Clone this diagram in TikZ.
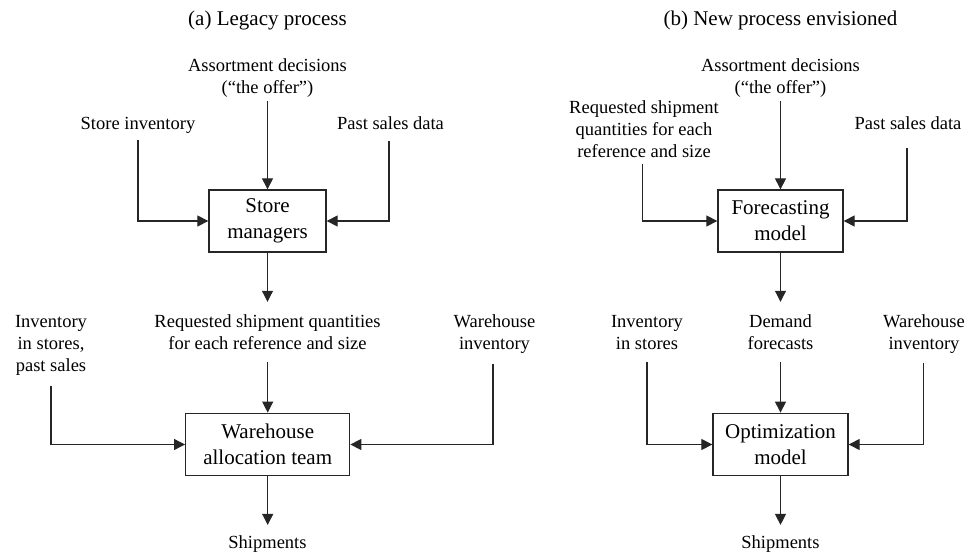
\documentclass[tikz,border=0pt]{standalone}
\usepackage{fontspec}
\setmainfont{Liberation Serif}
\usetikzlibrary{arrows.meta}
\begin{document}
\begin{tikzpicture}[x=1pt,y=-1pt,
  lab/.style={align=center,inner sep=0pt,font=\fontsize{18.5}{22}\selectfont},
  ttl/.style={inner sep=0pt,font=\fontsize{21}{25}\selectfont},
  box/.style={draw=black!85,line width=1.3pt,align=center,inner sep=0pt,font=\fontsize{21}{26}\selectfont},
  con/.style={draw=black!85,line width=1.1pt},
  arr/.style={con,-{Triangle[length=11pt,width=11pt]}}]
\useasboundingbox (0,0) rectangle (966,556);
% ---------- (a) ----------
\node[ttl] (ttlA) at (267.5,20.5) {(a) Legacy process};
\node[lab] (assortA) at (267.5,78.5) {Assortment decisions\\(``the offer'')};
\node[lab] (storeinv) at (138,125.5) {Store inventory};
\node[lab] (pastA) at (390.5,123.5) {Past sales data};
\node[box,minimum width=117pt,minimum height=62pt] (sm) at (267.5,221) {Store\\managers};
\node[lab] (reqA) at (267.5,332.5) {Requested shipment quantities\\for each reference and size};
\node[lab] (invA) at (51,345.5) {Inventory\\in stores,\\past sales};
\node[lab] (whA) at (494.5,334) {Warehouse\\inventory};
\node[box,minimum width=164pt,minimum height=62.5pt] (wa) at (267.7,444.5) {Warehouse\\allocation team};
\node[lab] (shipA) at (267.5,544.5) {Shipments};
\draw[arr,shorten <=3pt] (assortA.south -| sm.north) -- (sm.north);
\draw[arr,shorten <=6pt] (storeinv.south) |- (sm.west);
\draw[arr,shorten <=11pt] (pastA.south -| 389,0) |- (sm.east);
\draw[arr,shorten >=13pt] (sm.south) -- (reqA.north -| sm.south);
\draw[arr,shorten <=12pt] (reqA.south -| wa.north) -- (wa.north);
\draw[arr,shorten <=10pt] (invA.south) |- (wa.west);
\draw[arr,shorten <=10pt] (whA.south -| 493,0) |- (wa.east);
\draw[arr,shorten >=11pt] (wa.south) -- (shipA.north -| wa.south);
% ---------- (b) ----------
\node[ttl] (ttlB) at (780.5,20.5) {(b) New process envisioned};
\node[lab] (assortB) at (780.5,78.5) {Assortment decisions\\(``the offer'')};
\node[lab] (reqB) at (644,129) {Requested shipment\\quantities for each\\reference and size};
\node[lab] (pastB) at (908,123.5) {Past sales data};
\node[box,minimum width=125pt,minimum height=62pt] (fm) at (780.5,221) {Forecasting\\model};
\node[lab] (demand) at (780.5,332.5) {Demand\\forecasts};
\node[lab] (invB) at (647,332.5) {Inventory\\in stores};
\node[lab] (whB) at (924,334) {Warehouse\\inventory};
\node[box,minimum width=135pt,minimum height=62.5pt] (om) at (780.5,444.5) {Optimization\\model};
\node[lab] (shipB) at (780.5,544.5) {Shipments};
\draw[arr,shorten <=3pt] (assortB.south -| fm.north) -- (fm.north);
\draw[arr,shorten <=6pt] (reqB.south -| 642.3,0) |- (fm.west);
\draw[arr,shorten <=18pt] (pastB.south -| 907,0) |- (fm.east);
\draw[arr,shorten >=13pt] (fm.south) -- (demand.north -| fm.south);
\draw[arr,shorten <=12pt] (demand.south -| om.north) -- (om.north);
\draw[arr,shorten <=12pt] (invB.south) |- (om.west);
\draw[arr,shorten <=9pt] (whB.south -| 923.7,0) |- (om.east);
\draw[arr,shorten >=11pt] (om.south) -- (shipB.north -| om.south);
\end{tikzpicture}
\end{document}
